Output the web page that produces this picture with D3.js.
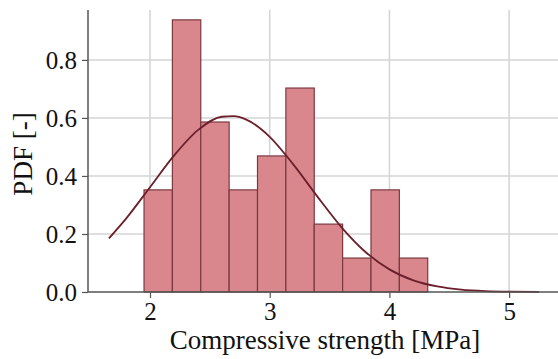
<!DOCTYPE html>
<html><head><meta charset="utf-8">
<script src="https://cdn.jsdelivr.net/npm/d3@7"></script>
<style>html,body{margin:0;padding:0;background:#fff;overflow:hidden}</style>
</head><body>
<script>
const binEdges = [1.95, 2.187, 2.424, 2.661, 2.898, 3.135, 3.372, 3.609, 3.846, 4.083, 4.32];
const density = [0.352, 0.938, 0.586, 0.352, 0.469, 0.703, 0.234, 0.117, 0.352, 0.117];
const curveX = [1.657, 1.8, 2.0, 2.2, 2.4, 2.6, 2.7, 2.8, 3.0, 3.2, 3.4, 3.6, 3.8, 4.0, 4.2, 4.4, 4.6, 4.8, 5.0, 5.25];
const curveY = [0.185, 0.253, 0.361, 0.470, 0.558, 0.604, 0.606, 0.595, 0.535, 0.438, 0.328, 0.223, 0.138, 0.078, 0.040, 0.019, 0.008, 0.003, 0.001, 0.0003];
const xTicks = [2, 3, 4, 5];
const yTicks = [0.0, 0.2, 0.4, 0.6, 0.8];
const xLabel = "Compressive strength [MPa]";
const yLabel = "PDF [-]";

const W = 558, H = 359;
const L = 88, R = 560, T = 10, B = 292;
const FONT = "Liberation Serif, DejaVu Serif, serif";
const svg = d3.select("body").append("svg").attr("width", W).attr("height", H)
  .style("font-family", FONT);
const x = d3.scaleLinear().domain([1.482, 5.425]).range([L, R]);
const y = d3.scaleLinear().domain([0, 0.972]).range([B, T]);

// grid
const grid = svg.append("g").attr("stroke", "#d4d4d4").attr("stroke-width", 1.5);
grid.selectAll("line.v").data(xTicks).join("line")
  .attr("x1", d => x(d)).attr("x2", d => x(d)).attr("y1", T).attr("y2", B);
grid.selectAll("line.h").data(yTicks.slice(1)).join("line")
  .attr("x1", L).attr("x2", R).attr("y1", d => y(d)).attr("y2", d => y(d));

// bars
svg.append("g").selectAll("rect").data(density).join("rect")
  .attr("x", (d, i) => x(binEdges[i]))
  .attr("width", (d, i) => x(binEdges[i + 1]) - x(binEdges[i]))
  .attr("y", d => y(d)).attr("height", d => y(0) - y(d))
  .attr("fill", "#d9878d").attr("stroke", "#7a3940").attr("stroke-width", 1.2);

// curve
const pts = curveX.map((v, i) => [v, curveY[i]]);
svg.append("path").datum(pts)
  .attr("d", d3.line().x(d => x(d[0])).y(d => y(d[1])).curve(d3.curveMonotoneX))
  .attr("fill", "none").attr("stroke", "#6b1f2a").attr("stroke-width", 1.8);

// axes
const xAxis = svg.append("g").attr("transform", `translate(0,${B})`)
  .call(d3.axisBottom(x).tickValues(xTicks).tickFormat(d3.format("d")).tickSize(6).tickPadding(5));
const yAxis = svg.append("g").attr("transform", `translate(${L},0)`)
  .call(d3.axisLeft(y).tickValues(yTicks).tickFormat(d3.format(".1f")).tickSize(6).tickPadding(5));
[xAxis, yAxis].forEach(a => {
  a.attr("font-family", null).attr("font-size", null);
  a.select(".domain").attr("stroke", "#555").attr("stroke-width", 1.5);
  a.selectAll(".tick line").attr("stroke", "#555").attr("stroke-width", 1.2);
  a.selectAll(".tick text").attr("fill", "#111")
    .style("font-family", FONT).style("font-size", "25px");
});
xAxis.select(".domain").attr("d", `M${L},0H${R}`);
yAxis.select(".domain").attr("d", `M0,${T}V${B}`);
yAxis.selectAll(".tick text").attr("dy", "0.33em");
xAxis.selectAll(".tick text").attr("dy", "0.68em");

svg.append("text").attr("x", 325).attr("y", 349).attr("text-anchor", "middle")
  .style("font-family", FONT).style("font-size", "27px").attr("fill", "#111").text(xLabel);
svg.append("text").attr("transform", `translate(32,154) rotate(-90)`).attr("text-anchor", "middle")
  .style("font-family", FONT).style("font-size", "27px").attr("fill", "#111").text(yLabel);
</script>
</body></html>
